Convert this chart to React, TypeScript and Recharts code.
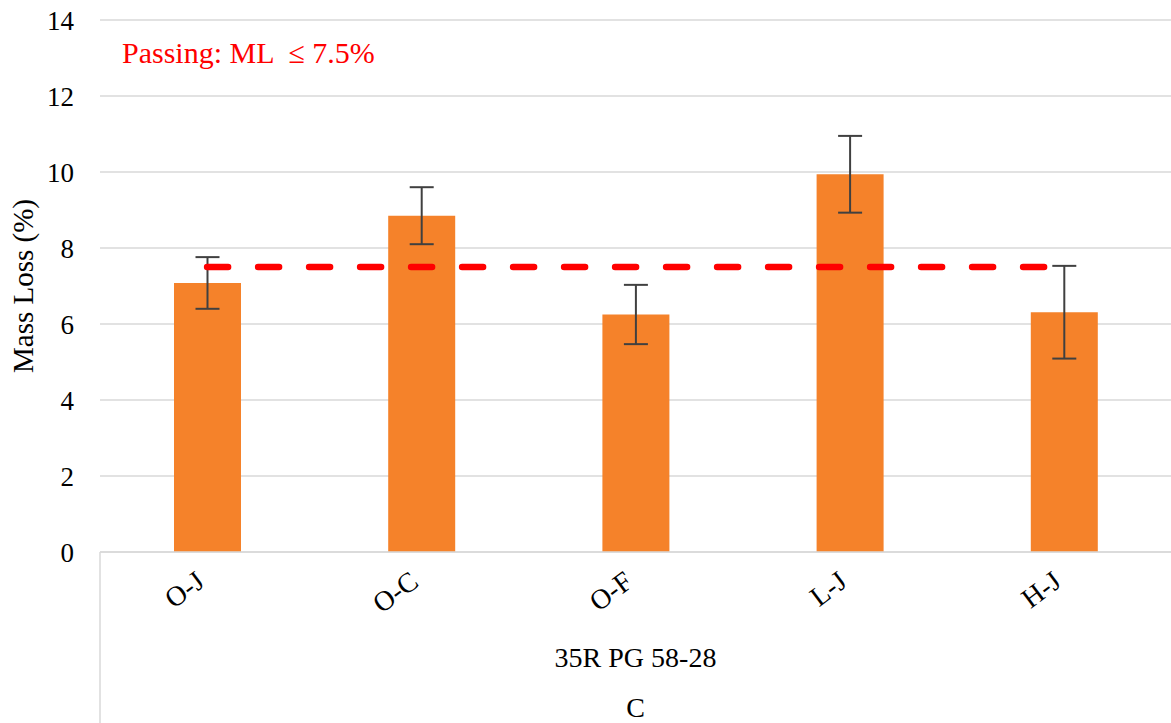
import React from 'react';
import {
  ComposedChart,
  Bar,
  Line,
  ErrorBar,
  XAxis,
  YAxis,
  CartesianGrid,
} from 'recharts';

const mixes = ['O-J', 'O-C', 'O-F', 'L-J', 'H-J'];
const massLoss = [7.08, 8.85, 6.25, 9.94, 6.31];
const stdDev = [0.68, 0.75, 0.78, 1.01, 1.22];
const passLimit = [7.5, 7.5, 7.5, 7.5, 7.5];
const yTicks = [0, 2, 4, 6, 8, 10, 12, 14];

const groupLabel = '35R PG 58-28';
const subGroupLabel = 'C';

const data = mixes.map((name, i) => ({
  name,
  loss: massLoss[i],
  err: stdDev[i],
  limit: passLimit[i],
}));

const FONT = "'Times New Roman', 'Liberation Serif', Tinos, 'DejaVu Serif', serif";

const AngledTick = (props: any) => {
  const { x, y, payload } = props;
  return (
    <g transform={`translate(${x - 1}, ${y + 33})`}>
      <text
        x={0}
        y={0}
        textAnchor="end"
        style={{ fontFamily: FONT }}
        fontSize={28}
        fill="#000"
        transform="rotate(-37)"
      >
        {payload.value}
      </text>
    </g>
  );
};

const groupAxisLabel = (props: any) => {
  const { viewBox } = props;
  const { x, y, width } = viewBox;
  const cx = x + width / 2;
  return (
    <g>
      <line x1={x} y1={y} x2={x} y2={723} stroke="#d9d9d9" strokeWidth={1.5} />
      <text x={cx} y={y + 115} textAnchor="middle" style={{ fontFamily: FONT }} fontSize={28} fill="#000">
        {groupLabel}
      </text>
      <text x={cx} y={y + 165} textAnchor="middle" style={{ fontFamily: FONT }} fontSize={28} fill="#000">
        {subGroupLabel}
      </text>
    </g>
  );
};

const yAxisLabel = (props: any) => {
  const { viewBox } = props;
  const cy = viewBox.y + viewBox.height / 2;
  const lx = 33;
  return (
    <text
      x={lx}
      y={cy}
      textAnchor="middle"
      style={{ fontFamily: FONT }}
      fontSize={29}
      fill="#000"
      transform={`rotate(-90, ${lx}, ${cy})`}
    >
      Mass Loss (%)
    </text>
  );
};

export default function App() {
  return (
    <div style={{ position: 'absolute', left: 0, top: 0, width: 1171, height: 723, background: '#fff', fontFamily: FONT }}>
      <ComposedChart
        width={1171}
        height={723}
        data={data}
        margin={{ top: 20, right: 0, left: 0, bottom: 0 }}
      >
        <CartesianGrid vertical={false} stroke="#d9d9d9" strokeWidth={1.5} />
        <XAxis
          dataKey="name"
          height={171}
          interval={0}
          tickLine={false}
          tickSize={0}
          tickMargin={0}
          axisLine={{ stroke: '#d9d9d9', strokeWidth: 1.5 }}
          tick={<AngledTick />}
          label={groupAxisLabel}
        />
        <YAxis
          width={100}
          domain={[0, 14]}
          ticks={yTicks}
          interval={0}
          axisLine={false}
          tickLine={false}
          tickSize={0}
          tickMargin={26}
          tick={{ style: { fontFamily: FONT }, fontSize: 27, fill: '#000' }}
          label={yAxisLabel}
        />
        <Bar dataKey="loss" fill="#F5822A" barSize={67} isAnimationActive={false}>
          <ErrorBar dataKey="err" width={12} strokeWidth={2} stroke="#404040" isAnimationActive={false} />
        </Bar>
        <Line
          dataKey="limit"
          stroke="#FF0000"
          strokeWidth={6.5}
          strokeDasharray="21 30"
          strokeLinecap="round"
          dot={false}
          activeDot={false}
          isAnimationActive={false}
        />
      </ComposedChart>
      <div
        style={{
          position: 'absolute',
          left: 122,
          top: 33,
          fontFamily: FONT,
          fontSize: 30,
          color: '#FF0000',
          whiteSpace: 'pre',
          lineHeight: '40px',
        }}
      >
        {'Passing: ML  \u2264 7.5%'}
      </div>
    </div>
  );
}
